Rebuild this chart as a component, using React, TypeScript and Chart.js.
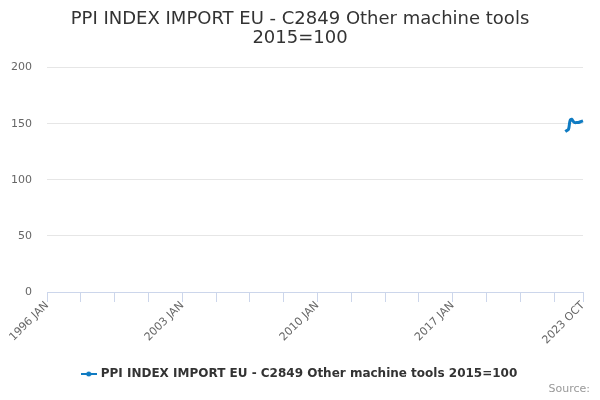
import React, { useEffect, useRef } from "react";
import { Chart, registerables } from "chart.js";

Chart.register(...registerables);

const TITLE_LINES = ["PPI INDEX IMPORT EU - C2849 Other machine tools", "2015=100"];
const SERIES_NAME = "PPI INDEX IMPORT EU - C2849 Other machine tools 2015=100";
const MONTH_NAMES = ["JAN", "FEB", "MAR", "APR", "MAY", "JUN", "JUL", "AUG", "SEP", "OCT", "NOV", "DEC"];
const START_YEAR = 1996;
const END_YEAR = 2023;
const END_MONTH = 10; // OCT

// Category labels: every month from 1996 JAN to 2023 OCT
const categories: string[] = [];
for (let y = START_YEAR; y <= END_YEAR; y++) {
  for (let m = 0; m < 12; m++) {
    if (y === END_YEAR && m >= END_MONTH) break;
    categories.push(`${y} ${MONTH_NAMES[m]}`);
  }
}

const dataMonths = [
  "2022 NOV", "2022 DEC", "2023 JAN", "2023 FEB", "2023 MAR", "2023 APR",
  "2023 MAY", "2023 JUN", "2023 JUL", "2023 AUG", "2023 SEP", "2023 OCT",
];
const dataValues = [143, 144, 145, 153, 154, 152, 151, 151, 151, 151.5, 152, 152.5];

const yTicks = [0, 50, 100, 150, 200];
const xTickStep = 21;
const xLabelStep = 84;

const LINE_COLOR = "#0f7bc2";
const FONT = "'DejaVu Sans', sans-serif";

function makeLegendSymbol(): HTMLCanvasElement {
  const c = document.createElement("canvas");
  c.width = 16;
  c.height = 8;
  const ctx = c.getContext("2d")!;
  ctx.strokeStyle = LINE_COLOR;
  ctx.lineWidth = 2;
  ctx.beginPath();
  ctx.moveTo(0, 4);
  ctx.lineTo(16, 4);
  ctx.stroke();
  ctx.fillStyle = LINE_COLOR;
  ctx.beginPath();
  ctx.arc(8, 4, 2.5, 0, Math.PI * 2);
  ctx.fill();
  return c;
}

const sourcePlugin = {
  id: "sourceText",
  afterDraw(chart: any) {
    const ctx = chart.ctx;
    ctx.save();
    ctx.font = `11px ${FONT}`;
    ctx.fillStyle = "#999999";
    ctx.textAlign = "right";
    ctx.textBaseline = "middle";
    ctx.fillText("Source:", 590, 389);
    ctx.restore();
  },
};

export default function App() {
  const ref = useRef<HTMLCanvasElement | null>(null);

  useEffect(() => {
    document.body.style.margin = "0";
    const symbol = makeLegendSymbol();
    const last = categories.length - 1;
    const tickIdx: number[] = [];
    for (let i = 0; i < last; i += xTickStep) tickIdx.push(i);
    tickIdx.push(last);

    const chart = new Chart(ref.current!, {
      type: "line",
      data: {
        labels: categories,
        datasets: [
          {
            label: SERIES_NAME,
            data: dataMonths.map((m, i) => ({ x: m, y: dataValues[i] })) as any,
            borderColor: LINE_COLOR,
            backgroundColor: LINE_COLOR,
            borderWidth: 3,
            pointRadius: 0,
            tension: 0.4,
            fill: false,
          },
        ],
      },
      options: {
        animation: false,
        responsive: false,
        maintainAspectRatio: false,
        layout: { padding: { left: 0, right: 0, top: 0, bottom: 10 } },
        plugins: {
          title: {
            display: true,
            text: TITLE_LINES,
            color: "#333333",
            font: { family: FONT, size: 18, weight: "normal", lineHeight: 1.1 },
            padding: { top: 9, bottom: 19 },
          },
          legend: {
            position: "bottom",
            labels: {
              usePointStyle: true,
              boxWidth: 16,
              boxHeight: 8,
              color: "#333333",
              font: { family: FONT, size: 12, weight: "bold" },
              padding: 6,
              generateLabels: (ch: any) =>
                ch.data.datasets.map((ds: any, i: number) => ({
                  text: ds.label,
                  pointStyle: symbol,
                  fillStyle: LINE_COLOR,
                  strokeStyle: LINE_COLOR,
                  lineWidth: 0,
                  datasetIndex: i,
                  fontColor: "#333333",
                })),
            },
          },
          tooltip: { enabled: false },
        },
        scales: {
          x: {
            type: "category",
            offset: false,
            afterBuildTicks: (axis: any) => {
              axis.ticks = tickIdx.map((v) => ({ value: v }));
            },
            afterFit: (axis: any) => {
              axis.height = 70;
            },
            ticks: {
              autoSkip: false,
              maxRotation: 45,
              minRotation: 45,
              color: "#666666",
              font: { family: FONT, size: 11 },
              padding: -3,
              callback: (value: any) => {
                const v = Number(value);
                return v % xLabelStep === 0 || v === last ? categories[v] : "";
              },
            },
            grid: {
              drawOnChartArea: false,
              drawTicks: true,
              tickLength: 10,
              color: "#ccd6eb",
              lineWidth: 1,
            },
            border: { display: true, color: "#ccd6eb", width: 1 },
          },
          y: {
            min: 0,
            max: 200,
            afterBuildTicks: (axis: any) => {
              axis.ticks = yTicks.map((v) => ({ value: v }));
            },
            afterFit: (axis: any) => {
              axis.width = 47;
            },
            ticks: {
              color: "#666666",
              font: { family: FONT, size: 11 },
              padding: 15,
            },
            grid: { color: "#e6e6e6", drawTicks: false, lineWidth: 1 },
            border: { display: false },
          },
          rightSpacer: {
            type: "linear",
            position: "right",
            display: true,
            afterFit: (axis: any) => {
              axis.width = 17;
            },
            ticks: { display: false },
            grid: { display: false },
            border: { display: false },
          },
        },
      },
      plugins: [sourcePlugin],
    });
    return () => chart.destroy();
  }, []);

  return (
    <div style={{ width: 600, height: 400 }}>
      <canvas ref={ref} width={600} height={400} style={{ display: "block" }} />
    </div>
  );
}
